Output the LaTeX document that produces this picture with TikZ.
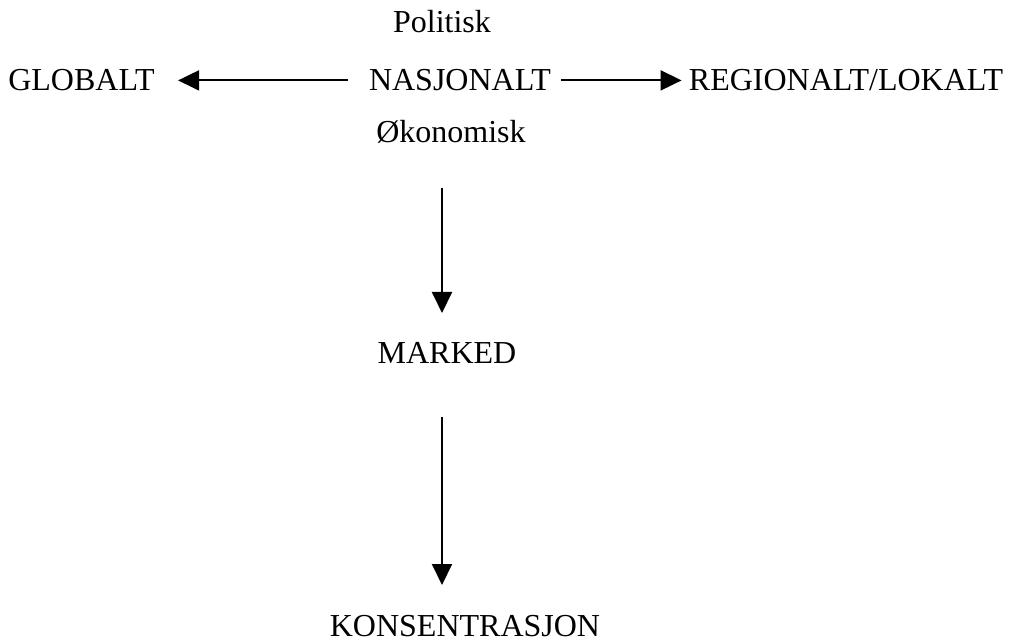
\documentclass[tikz,border=0pt]{standalone}
\usepackage{fontspec}
\setmainfont{Liberation Serif}
\usetikzlibrary{arrows.meta}
\begin{document}
\begin{tikzpicture}[x=0.5pt,y=-0.5pt,
  lbl/.style={inner sep=0pt,anchor=base,font=\fontsize{16pt}{19pt}\selectfont,text height=10.6pt,text depth=0pt},
  arr/.style={line width=1pt,-{Triangle[length=10.5pt,width=10pt]}}]
\useasboundingbox (0,0) rectangle (1011,641);
\node[lbl] (pol) at (442,33) {Politisk};
\node[lbl] (glob) at (81.5,91) {GLOBALT};
\node[lbl] (nas) at (460,91) {NASJONALT};
\node[lbl] (reg) at (846,91) {REGIONALT/LOKALT};
\node[lbl] (oko) at (451,143) {Økonomisk};
\node[lbl] (mark) at (447,364) {MARKED};
\node[lbl] (kons) at (465,636) {KONSENTRASJON};
\draw[arr,shorten <=10.5pt,shorten >=11.5pt] (nas.west) -- (glob.east);
\draw[arr,shorten <=5pt,shorten >=3.5pt] (nas.east) -- (reg.west);
\coordinate (v1a) at (442,188);
\coordinate (v1b) at (442,313);
\coordinate (v2a) at (442,417);
\coordinate (v2b) at (442,585);
\draw[arr] (v1a) -- (v1b);
\draw[arr] (v2a) -- (v2b);
\end{tikzpicture}
\end{document}
